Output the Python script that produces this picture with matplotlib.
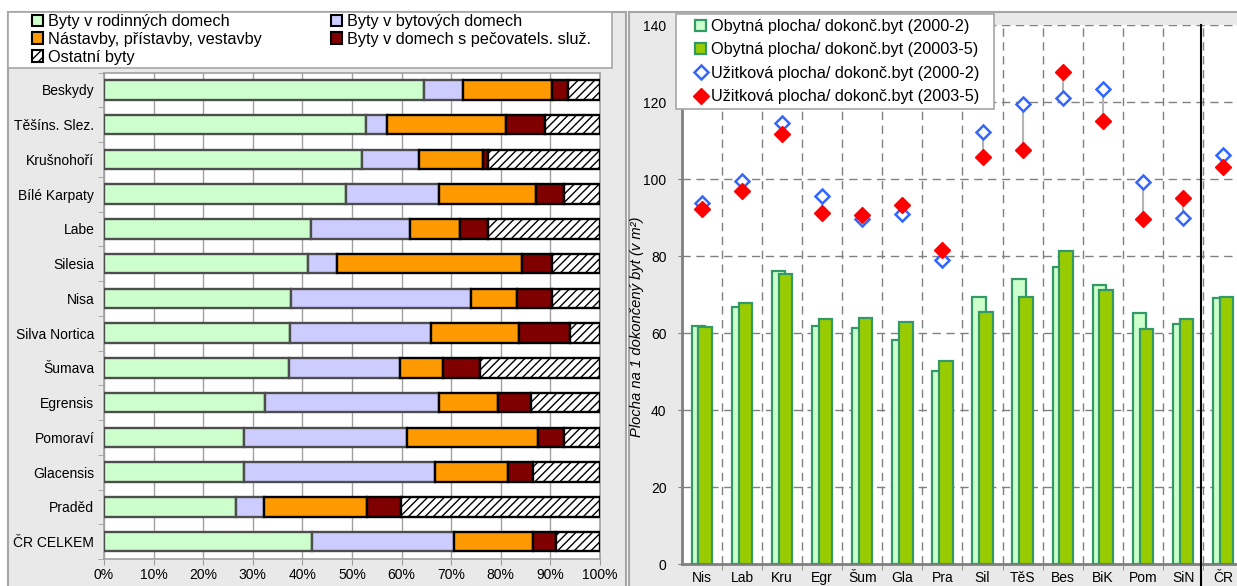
import matplotlib
matplotlib.use('Agg')
import matplotlib.pyplot as plt
from matplotlib.patches import Rectangle, Patch
from matplotlib.lines import Line2D
import numpy as np

plt.rcParams['font.family'] = ['Liberation Sans', 'DejaVu Sans']
plt.rcParams['hatch.linewidth'] = 1.0

# ---------------- data: left panel (structure of completed dwellings, %) -------------
regions = ['Beskydy', 'Těšíns. Slez.', 'Krušnohoří', 'Bílé Karpaty', 'Labe', 'Silesia',
           'Nisa', 'Silva Nortica', 'Šumava', 'Egrensis', 'Pomoraví', 'Glacensis',
           'Praděd', 'ČR CELKEM']
rodinne = [64.5, 52.9, 52.1, 48.8, 41.8, 41.2, 37.8, 37.5, 37.3, 32.4, 28.3, 28.3, 26.7, 42.0]
bytove = [7.8, 4.2, 11.5, 18.8, 19.9, 5.7, 36.2, 28.5, 22.4, 35.2, 32.8, 38.5, 5.5, 28.5]
nastavby = [18.1, 24.0, 12.8, 19.5, 10.1, 37.3, 9.2, 17.7, 8.6, 11.9, 26.4, 14.7, 20.9, 16.0]
pecovatel = [3.2, 7.9, 1.1, 5.6, 5.7, 6.1, 7.2, 10.2, 7.5, 6.6, 5.2, 5.0, 6.8, 4.6]
ostatni = [6.4, 11.0, 22.5, 7.3, 22.5, 9.7, 9.6, 6.1, 24.2, 13.9, 7.3, 13.5, 40.1, 8.9]
left_labels = ['Byty v rodinných domech', 'Byty v bytových domech',
               'Nástavby, přístavby, vestavby', 'Byty v domech s pečovatels. služ.',
               'Ostatní byty']
pct_ticks = [0, 10, 20, 30, 40, 50, 60, 70, 80, 90, 100]

# ---------------- data: right panel (floor area per completed dwelling, m2) ------------
codes = ['Nis', 'Lab', 'Kru', 'Egr', 'Šum', 'Gla', 'Pra', 'Sil', 'TěS', 'Bes', 'BiK',
         'Pom', 'SiN', 'ČR']
obytna_0002 = [61.9, 66.8, 76.1, 61.9, 61.3, 58.3, 50.2, 69.4, 74.1, 77.3, 72.5, 65.3, 62.3, 69.1]
obytna_0305 = [61.6, 67.9, 75.5, 63.7, 63.9, 63.0, 52.9, 65.5, 69.4, 81.4, 71.2, 61.0, 63.6, 69.4]
uzit_0002 = [93.8, 99.5, 114.5, 95.7, 89.6, 91.0, 79.0, 112.3, 119.5, 121.2, 123.5, 99.4, 89.9, 106.2]
uzit_0305 = [92.2, 97.0, 111.7, 91.3, 90.7, 93.2, 81.6, 105.9, 107.6, 127.8, 115.2, 89.7, 95.1, 103.3]
right_labels = ['Obytná plocha/ dokonč.byt (2000-2)', 'Obytná plocha/ dokonč.byt (20003-5)',
                'Užitková plocha/ dokonč.byt (2000-2)', 'Užitková plocha/ dokonč.byt (2003-5)']
area_ticks = [0, 20, 40, 60, 80, 100, 120, 140]

# ---------------- layout helpers ----------------
W, H = 1237, 586
def fx(px):
    return px / W
def fy(py):
    return 1 - py / H

fig = plt.figure(figsize=(W / 100, H / 100), dpi=100)
fig.patch.set_facecolor('white')

PANEL = '#e9e9e9'
BORDER = '#a6a6a6'
# gray chart panels
fig.add_artist(Rectangle((fx(8), fy(600)), (626 - 8) / W, (600 - 12) / H,
                         transform=fig.transFigure, facecolor=PANEL, edgecolor=BORDER,
                         lw=1.5, zorder=-10))
fig.add_artist(Rectangle((fx(629), fy(600)), (1250 - 629) / W, (600 - 12) / H,
                         transform=fig.transFigure, facecolor=PANEL, edgecolor=BORDER,
                         lw=1.5, zorder=-10))

# ---------------- left panel ----------------
axL = fig.add_axes([fx(104), fy(559), 496 / W, (559 - 72.6) / H])
axL.set_facecolor('white')
ypos = np.arange(len(regions))
series = [
    (rodinne, '#ccffcc', '#4d4d4d', None),
    (bytove, '#ccccff', '#4d4d4d', None),
    (nastavby, '#ff9900', '#000000', None),
    (pecovatel, '#800000', '#000000', None),
    (ostatni, '#ffffff', '#000000', '////'),
]
cum = np.zeros(len(regions))
left_handles = []
for (vals, fc, ec, hatch), lab in zip(series, left_labels):
    vals = np.asarray(vals)
    axL.barh(ypos, vals, left=cum, height=0.56, color=fc, edgecolor=ec,
             linewidth=1.7, hatch=hatch, zorder=3)
    cum += vals
    left_handles.append(Patch(facecolor=fc, edgecolor='#000000', linewidth=1.5,
                              hatch=hatch, label=lab))
axL.set_xlim(0, 100)
axL.set_ylim(len(regions) - 0.5, -0.5)
axL.set_xticks(pct_ticks)
axL.set_xticklabels([f'{t}%' for t in pct_ticks], fontsize=10)
axL.set_yticks(ypos)
axL.set_yticklabels(regions, fontsize=10)
axL.set_yticks(np.arange(-0.5, len(regions), 1), minor=True)
axL.tick_params(axis='y', which='major', length=0, pad=7)
axL.tick_params(axis='y', which='minor', length=4, color='#a0a0a0', direction='out')
axL.tick_params(axis='x', length=4, color='#a0a0a0', pad=2.5)
axL.xaxis.grid(True, color='#a0a0a0', lw=1)
axL.set_axisbelow(True)
for s in axL.spines.values():
    s.set_color('#a0a0a0')
    s.set_linewidth(1.2)

# left legend (white box + two columns)
fig.add_artist(Rectangle((fx(8), fy(68)), (612 - 8) / W, (68 - 12) / H,
                         transform=fig.transFigure, facecolor='white', edgecolor=BORDER,
                         lw=1.2, zorder=4))
common_leg = dict(loc='upper left', frameon=False, borderpad=0, borderaxespad=0,
                  handlelength=0.7, handleheight=0.7, handletextpad=0.3,
                  labelspacing=0.17, fontsize=11.7)
legA = fig.legend([left_handles[0], left_handles[2], left_handles[4]],
                  [left_labels[0], left_labels[2], left_labels[4]],
                  bbox_to_anchor=(fx(32), fy(14)), **common_leg)
legB = fig.legend([left_handles[1], left_handles[3]],
                  [left_labels[1], left_labels[3]],
                  bbox_to_anchor=(fx(331), fy(14)), **common_leg)

# ---------------- right panel ----------------
step = 40.1
axR = fig.add_axes([fx(681.8), fy(564.3), len(codes) * step / W, (564.3 - 25.3) / H])
axR.set_facecolor('white')
xpos = np.arange(len(codes))
axR.bar(xpos - 0.085, obytna_0002, width=0.34, color='#ccffcc', edgecolor='#339966',
        linewidth=1.6, zorder=3)
axR.bar(xpos + 0.085, obytna_0305, width=0.34, color='#99cc00', edgecolor='#339966',
        linewidth=1.6, zorder=4)
axR.vlines(xpos, uzit_0002, uzit_0305, color='#b4b4b4', lw=1.5, zorder=5)
axR.plot(xpos, uzit_0002, ls='none', marker='D', ms=6.8, mfc='white', mec='#3366ff',
         mew=1.8, zorder=6)
axR.plot(xpos, uzit_0305, ls='none', marker='D', ms=7.8, mfc='#ff0000', mec='#ff0000',
         zorder=6)
axR.set_xlim(-0.5, len(codes) - 0.5)
axR.set_ylim(0, 140)
axR.set_yticks(area_ticks)
axR.set_yticklabels([str(t) for t in area_ticks], fontsize=10)
axR.set_xticks(xpos)
axR.set_xticklabels(codes, fontsize=10)
axR.set_xticks(np.arange(0.5, len(codes) - 1, 1), minor=True)
axR.tick_params(axis='x', which='major', length=0, pad=5)
axR.tick_params(axis='x', which='minor', length=4, color='#808080')
axR.tick_params(axis='y', length=3, color='#808080', pad=8)
axR.yaxis.grid(True, color='#808080', lw=1, linestyle=(0, (6, 4)))
axR.xaxis.grid(True, which='minor', color='#808080', lw=1, linestyle=(0, (6, 4)))
axR.set_axisbelow(True)
axR.spines['top'].set_visible(False)
axR.spines['right'].set_visible(False)
axR.spines['left'].set_color('#808080')
axR.spines['left'].set_linewidth(2)
axR.spines['bottom'].set_color('#808080')
axR.spines['bottom'].set_linewidth(2)
# separator between regions and the national total
axR.plot([len(codes) - 1.55, len(codes) - 1.55], [-0.06, 1.0], color='black', lw=1.5,
         transform=axR.get_xaxis_transform(), clip_on=False, zorder=7)
axR.set_ylabel('Plocha na 1 dokončený byt (v m²)', fontsize=10.6, style='italic')
axR.yaxis.set_label_coords(-0.068, 0.44)

# right legend
fig.add_artist(Rectangle((fx(676), fy(109)), (994 - 676) / W, (109 - 14) / H,
                         transform=fig.transFigure, facecolor='white', edgecolor=BORDER,
                         lw=1.2, zorder=4))
right_handles = [
    Patch(facecolor='#ccffcc', edgecolor='#339966', linewidth=1.6),
    Patch(facecolor='#99cc00', edgecolor='#339966', linewidth=1.6),
    Line2D([], [], ls='none', marker='D', ms=6.8, mfc='white', mec='#3366ff', mew=1.8),
    Line2D([], [], ls='none', marker='D', ms=7.8, mfc='#ff0000', mec='#ff0000'),
]
fig.legend(right_handles, right_labels, loc='upper left', frameon=False, borderpad=0,
           borderaxespad=0, handlelength=0.7, handleheight=0.7, handletextpad=0.3,
           labelspacing=0.52, fontsize=11.7, bbox_to_anchor=(fx(695), fy(19)))

fig.savefig('out.png', dpi=100)
